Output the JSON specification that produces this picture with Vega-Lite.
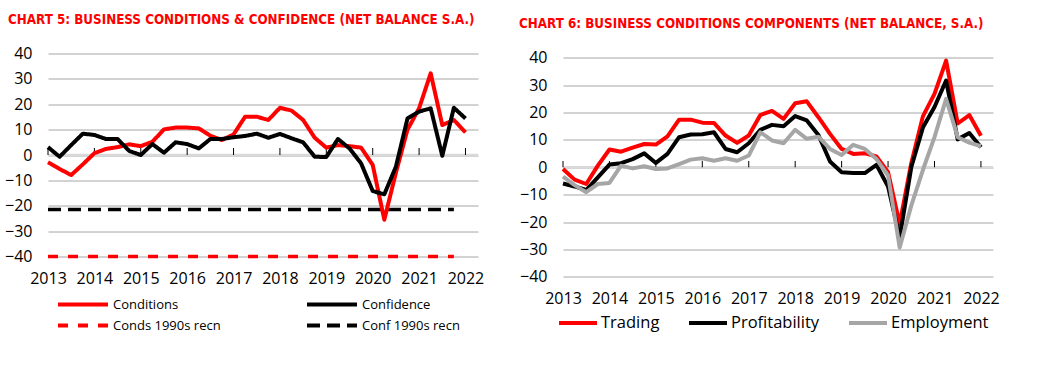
{
  "$schema": "https://vega.github.io/schema/vega-lite/v6.json",
  "padding": {"left": 4, "top": 12.5, "right": 0, "bottom": 0},
  "background": "white",
  "spacing": 85,
  "bounds": "flush",
  "resolve": {"scale": {"color": "independent", "strokeDash": "independent", "x": "independent", "y": "independent"}, "legend": {"color": "independent", "strokeDash": "independent"}},
  "config": {
    "view": {"stroke": null},
    "font": "Open Sans",
    "axis": {"labelFont": "Open Sans", "labelColor": "#000000", "labelFontSize": 16, "domain": false, "ticks": false, "tickSize": 0, "gridColor": "#a6a6a6", "gridWidth": 1, "labelOverlap": false},
    "legend": {"labelFont": "Open Sans", "labelColor": "#000000", "padding": 0},
    "title": {"font": "Liberation Sans Narrow, DejaVu Sans Condensed, sans-serif", "fontWeight": "bold", "color": "#ff0000", "fontSize": 13.3, "anchor": "start", "frame": "group", "limit": 1000}
  },
  "hconcat": [
    {
      "title": {"text": "CHART 5: BUSINESS CONDITIONS & CONFIDENCE (NET BALANCE S.A.)", "dx": -40, "offset": 19.5},
      "width": 430,
      "height": 203,
      "layer": [
        {
          "data": {"values": [{"z": 0}]},
          "mark": {"type": "rule", "color": "#d9d9d9", "strokeWidth": 2.5},
          "encoding": {
            "y": {"field": "z", "type": "quantitative", "scale": {"domain": [-40, 40], "nice": false, "zero": false},
                  "axis": {"values": [-40, -30, -20, -10, 0, 10, 20, 30, 40], "grid": true, "labelPadding": 16, "title": null}}
          }
        },
        {
          "data": {"values": [{"t": 2013}, {"t": 2014}, {"t": 2015}, {"t": 2016}, {"t": 2017}, {"t": 2018}, {"t": 2019}, {"t": 2020}, {"t": 2021}, {"t": 2022}]},
          "mark": {"type": "rule", "color": "#000000", "strokeWidth": 1},
          "encoding": {
            "x": {"field": "t", "type": "quantitative", "scale": {"domain": [2013, 2022.27], "nice": false, "zero": false},
                  "axis": {"values": [2013, 2014, 2015, 2016, 2017, 2018, 2019, 2020, 2021, 2022], "format": "d", "grid": false, "labelFlush": false, "labelOverlap": false, "labelPadding": 14, "title": null}},
            "y": {"datum": 0, "type": "quantitative", "scale": {"domain": [-40, 40], "nice": false, "zero": false},
                  "axis": {"values": [-40, -30, -20, -10, 0, 10, 20, 30, 40], "grid": true, "labelPadding": 16, "title": null}},
            "y2": {"datum": 2.76}
          }
        },
        {
          "data": {"name": "left"},
          "transform": [
            {"fold": ["Conditions", "Confidence", "Conds 1990s recn", "Conf 1990s recn"], "as": ["series", "v"]},
            {"filter": {"field": "series", "oneOf": ["Conds 1990s recn", "Conf 1990s recn"]}}
          ],
          "mark": {"type": "line", "strokeWidth": 3.5},
          "encoding": {
            "x": {"field": "t", "type": "quantitative", "scale": {"domain": [2013, 2022.27], "nice": false, "zero": false},
                  "axis": {"values": [2013, 2014, 2015, 2016, 2017, 2018, 2019, 2020, 2021, 2022], "format": "d", "grid": false, "labelFlush": false, "labelOverlap": false, "labelPadding": 14, "title": null}},
            "y": {"field": "v", "type": "quantitative", "scale": {"domain": [-40, 40], "nice": false, "zero": false},
                  "axis": {"values": [-40, -30, -20, -10, 0, 10, 20, 30, 40], "grid": true, "labelPadding": 16, "title": null}},
            "color": {"field": "series", "type": "nominal",
                      "scale": {"domain": ["Conditions", "Conds 1990s recn", "Confidence", "Conf 1990s recn"], "range": ["#ff0000", "#ff0000", "#000000", "#000000"]},
                      "legend": {"title": null, "orient": "none", "legendX": 8, "legendY": 240.5, "columns": 2, "columnPadding": 84, "symbolType": "stroke", "symbolSize": 2500, "symbolStrokeWidth": 4, "clipHeight": 21, "rowPadding": 0, "labelFontSize": 13, "labelOffset": 3}},
            "strokeDash": {"field": "series", "type": "nominal",
                      "scale": {"domain": ["Conditions", "Conds 1990s recn", "Confidence", "Conf 1990s recn"], "range": [[1, 0], [10, 10], [1, 0], [13, 7]]},
                      "legend": {"title": null, "orient": "none", "legendX": 8, "legendY": 240.5, "columns": 2, "columnPadding": 84, "symbolType": "stroke", "symbolSize": 2500, "symbolStrokeWidth": 4, "clipHeight": 21, "rowPadding": 0, "labelFontSize": 13, "labelOffset": 3}}
          }
        },
        {
          "data": {"name": "left"},
          "transform": [
            {"fold": ["Conditions", "Confidence", "Conds 1990s recn", "Conf 1990s recn"], "as": ["series", "v"]},
            {"filter": {"field": "series", "oneOf": ["Conditions", "Confidence"]}}
          ],
          "mark": {"type": "line", "strokeWidth": 4, "strokeJoin": "round"},
          "encoding": {
            "x": {"field": "t", "type": "quantitative", "scale": {"domain": [2013, 2022.27], "nice": false, "zero": false},
                  "axis": {"values": [2013, 2014, 2015, 2016, 2017, 2018, 2019, 2020, 2021, 2022], "format": "d", "grid": false, "labelFlush": false, "labelOverlap": false, "labelPadding": 14, "title": null}},
            "y": {"field": "v", "type": "quantitative", "scale": {"domain": [-40, 40], "nice": false, "zero": false},
                  "axis": {"values": [-40, -30, -20, -10, 0, 10, 20, 30, 40], "grid": true, "labelPadding": 16, "title": null}},
            "color": {"field": "series", "type": "nominal",
                      "scale": {"domain": ["Conditions", "Conds 1990s recn", "Confidence", "Conf 1990s recn"], "range": ["#ff0000", "#ff0000", "#000000", "#000000"]},
                      "legend": {"title": null, "orient": "none", "legendX": 8, "legendY": 240.5, "columns": 2, "columnPadding": 84, "symbolType": "stroke", "symbolSize": 2500, "symbolStrokeWidth": 4, "clipHeight": 21, "rowPadding": 0, "labelFontSize": 13, "labelOffset": 3}},
            "strokeDash": {"field": "series", "type": "nominal",
                      "scale": {"domain": ["Conditions", "Conds 1990s recn", "Confidence", "Conf 1990s recn"], "range": [[1, 0], [10, 10], [1, 0], [13, 7]]},
                      "legend": {"title": null, "orient": "none", "legendX": 8, "legendY": 240.5, "columns": 2, "columnPadding": 84, "symbolType": "stroke", "symbolSize": 2500, "symbolStrokeWidth": 4, "clipHeight": 21, "rowPadding": 0, "labelFontSize": 13, "labelOffset": 3}}
          }
        }
      ]
    },
    {
      "title": {"text": "CHART 6: BUSINESS CONDITIONS COMPONENTS (NET BALANCE, S.A.)", "dx": -44, "offset": 19.5},
      "width": 430,
      "height": 223.3,
      "layer": [
        {
          "data": {"values": [{"z": 0}]},
          "mark": {"type": "rule", "color": "#d9d9d9", "strokeWidth": 2.5},
          "encoding": {
            "y": {"field": "z", "type": "quantitative", "scale": {"domain": [-40, 41.57], "nice": false, "zero": false},
                  "axis": {"values": [-40, -30, -20, -10, 0, 10, 20, 30, 40], "grid": true, "labelPadding": 16, "title": null}}
          }
        },
        {
          "data": {"values": [{"t": 2013}, {"t": 2014}, {"t": 2015}, {"t": 2016}, {"t": 2017}, {"t": 2018}, {"t": 2019}, {"t": 2020}, {"t": 2021}, {"t": 2022}]},
          "mark": {"type": "rule", "color": "#000000", "strokeWidth": 1},
          "encoding": {
            "x": {"field": "t", "type": "quantitative", "scale": {"domain": [2013, 2022.26], "nice": false, "zero": false},
                  "axis": {"values": [2013, 2014, 2015, 2016, 2017, 2018, 2019, 2020, 2021, 2022], "format": "d", "grid": false, "labelFlush": false, "labelOverlap": false, "labelPadding": 14, "title": null}},
            "y": {"datum": 0, "type": "quantitative", "scale": {"domain": [-40, 41.57], "nice": false, "zero": false},
                  "axis": {"values": [-40, -30, -20, -10, 0, 10, 20, 30, 40], "grid": true, "labelPadding": 16, "title": null}},
            "y2": {"datum": 2.3}
          }
        },
        {
          "data": {"name": "right"},
          "transform": [
            {"fold": ["Trading", "Profitability", "Employment"], "as": ["series", "v"]}
          ],
          "mark": {"type": "line", "strokeWidth": 4, "strokeJoin": "round"},
          "encoding": {
            "x": {"field": "t", "type": "quantitative", "scale": {"domain": [2013, 2022.26], "nice": false, "zero": false},
                  "axis": {"values": [2013, 2014, 2015, 2016, 2017, 2018, 2019, 2020, 2021, 2022], "format": "d", "grid": false, "labelFlush": false, "labelOverlap": false, "labelPadding": 14, "title": null}},
            "y": {"field": "v", "type": "quantitative", "scale": {"domain": [-40, 41.57], "nice": false, "zero": false},
                  "axis": {"values": [-40, -30, -20, -10, 0, 10, 20, 30, 40], "grid": true, "labelPadding": 16, "title": null}},
            "color": {"field": "series", "type": "nominal",
                      "scale": {"domain": ["Trading", "Profitability", "Employment"], "range": ["#ff0000", "#000000", "#a6a6a6"]},
                      "legend": {"title": null, "orient": "none", "legendX": -6, "legendY": 259, "direction": "horizontal", "columns": 3, "columnPadding": 27, "symbolType": "stroke", "symbolSize": 1444, "symbolStrokeWidth": 4, "clipHeight": 21, "labelFontSize": 16.5, "labelOffset": 2}}
          }
        }
      ]
    }
  ],
  "datasets": {
    "left": [
      {"t": 2013, "Conditions": -2.9, "Confidence": 3.1, "Conds 1990s recn": -40, "Conf 1990s recn": -21.5},
      {"t": 2013.25, "Conditions": -5.5, "Confidence": -0.7, "Conds 1990s recn": -40, "Conf 1990s recn": -21.5},
      {"t": 2013.5, "Conditions": -7.9, "Confidence": 3.9, "Conds 1990s recn": -40, "Conf 1990s recn": -21.5},
      {"t": 2013.75, "Conditions": -3.7, "Confidence": 8.4, "Conds 1990s recn": -40, "Conf 1990s recn": -21.5},
      {"t": 2014, "Conditions": 0.7, "Confidence": 7.9, "Conds 1990s recn": -40, "Conf 1990s recn": -21.5},
      {"t": 2014.25, "Conditions": 2.4, "Confidence": 6.3, "Conds 1990s recn": -40, "Conf 1990s recn": -21.5},
      {"t": 2014.5, "Conditions": 3.1, "Confidence": 6.3, "Conds 1990s recn": -40, "Conf 1990s recn": -21.5},
      {"t": 2014.75, "Conditions": 4.2, "Confidence": 1.6, "Conds 1990s recn": -40, "Conf 1990s recn": -21.5},
      {"t": 2015, "Conditions": 3.5, "Confidence": 0, "Conds 1990s recn": -40, "Conf 1990s recn": -21.5},
      {"t": 2015.25, "Conditions": 5.2, "Confidence": 4.3, "Conds 1990s recn": -40, "Conf 1990s recn": -21.5},
      {"t": 2015.5, "Conditions": 10.1, "Confidence": 0.9, "Conds 1990s recn": -40, "Conf 1990s recn": -21.5},
      {"t": 2015.75, "Conditions": 10.8, "Confidence": 5, "Conds 1990s recn": -40, "Conf 1990s recn": -21.5},
      {"t": 2016, "Conditions": 10.8, "Confidence": 4.3, "Conds 1990s recn": -40, "Conf 1990s recn": -21.5},
      {"t": 2016.25, "Conditions": 10.5, "Confidence": 2.6, "Conds 1990s recn": -40, "Conf 1990s recn": -21.5},
      {"t": 2016.5, "Conditions": 7.6, "Confidence": 6.3, "Conds 1990s recn": -40, "Conf 1990s recn": -21.5},
      {"t": 2016.75, "Conditions": 5.9, "Confidence": 6.3, "Conds 1990s recn": -40, "Conf 1990s recn": -21.5},
      {"t": 2017, "Conditions": 8.1, "Confidence": 7, "Conds 1990s recn": -40, "Conf 1990s recn": -21.5},
      {"t": 2017.25, "Conditions": 15.1, "Confidence": 7.5, "Conds 1990s recn": -40, "Conf 1990s recn": -21.5},
      {"t": 2017.5, "Conditions": 15.1, "Confidence": 8.4, "Conds 1990s recn": -40, "Conf 1990s recn": -21.5},
      {"t": 2017.75, "Conditions": 13.8, "Confidence": 6.8, "Conds 1990s recn": -40, "Conf 1990s recn": -21.5},
      {"t": 2018, "Conditions": 18.6, "Confidence": 8.3, "Conds 1990s recn": -40, "Conf 1990s recn": -21.5},
      {"t": 2018.25, "Conditions": 17.5, "Confidence": 6.6, "Conds 1990s recn": -40, "Conf 1990s recn": -21.5},
      {"t": 2018.5, "Conditions": 13.8, "Confidence": 5, "Conds 1990s recn": -40, "Conf 1990s recn": -21.5},
      {"t": 2018.75, "Conditions": 6.8, "Confidence": -0.7, "Conds 1990s recn": -40, "Conf 1990s recn": -21.5},
      {"t": 2019, "Conditions": 2.9, "Confidence": -0.8, "Conds 1990s recn": -40, "Conf 1990s recn": -21.5},
      {"t": 2019.25, "Conditions": 3.9, "Confidence": 6.3, "Conds 1990s recn": -40, "Conf 1990s recn": -21.5},
      {"t": 2019.5, "Conditions": 3.5, "Confidence": 2.6, "Conds 1990s recn": -40, "Conf 1990s recn": -21.5},
      {"t": 2019.75, "Conditions": 2.9, "Confidence": -3.3, "Conds 1990s recn": -40, "Conf 1990s recn": -21.5},
      {"t": 2020, "Conditions": -3.9, "Confidence": -14.2, "Conds 1990s recn": -40, "Conf 1990s recn": -21.5},
      {"t": 2020.25, "Conditions": -25.5, "Confidence": -15.5, "Conds 1990s recn": -40, "Conf 1990s recn": -21.5},
      {"t": 2020.5, "Conditions": -7, "Confidence": -4.6, "Conds 1990s recn": -40, "Conf 1990s recn": -21.5},
      {"t": 2020.75, "Conditions": 10, "Confidence": 14.4, "Conds 1990s recn": -40, "Conf 1990s recn": -21.5},
      {"t": 2021, "Conditions": 18.4, "Confidence": 17.1, "Conds 1990s recn": -40, "Conf 1990s recn": -21.5},
      {"t": 2021.25, "Conditions": 32.2, "Confidence": 18.4, "Conds 1990s recn": -40, "Conf 1990s recn": -21.5},
      {"t": 2021.5, "Conditions": 11.8, "Confidence": -0.3, "Conds 1990s recn": -40, "Conf 1990s recn": -21.5},
      {"t": 2021.75, "Conditions": 13.8, "Confidence": 18.6, "Conds 1990s recn": -40, "Conf 1990s recn": -21.5},
      {"t": 2022, "Conditions": 8.9, "Confidence": 14.4, "Conds 1990s recn": null, "Conf 1990s recn": null}
    ],
    "right": [
      {"t": 2013, "Trading": -0.6, "Profitability": -5.9, "Employment": -3.4},
      {"t": 2013.25, "Trading": -4.5, "Profitability": -7, "Employment": -6.5},
      {"t": 2013.5, "Trading": -6.1, "Profitability": -8.3, "Employment": -9.1},
      {"t": 2013.75, "Trading": 0.6, "Profitability": -3.7, "Employment": -6.1},
      {"t": 2014, "Trading": 6.5, "Profitability": 1, "Employment": -5.7},
      {"t": 2014.25, "Trading": 5.7, "Profitability": 1.5, "Employment": 0.6},
      {"t": 2014.5, "Trading": 7.2, "Profitability": 3, "Employment": -0.4},
      {"t": 2014.75, "Trading": 8.5, "Profitability": 5.1, "Employment": 0.4},
      {"t": 2015, "Trading": 8.3, "Profitability": 1.6, "Employment": -0.6},
      {"t": 2015.25, "Trading": 11.3, "Profitability": 4.9, "Employment": -0.4},
      {"t": 2015.5, "Trading": 17.4, "Profitability": 11, "Employment": 1.2},
      {"t": 2015.75, "Trading": 17.4, "Profitability": 12, "Employment": 2.8},
      {"t": 2016, "Trading": 16.3, "Profitability": 12.1, "Employment": 3.3},
      {"t": 2016.25, "Trading": 16.2, "Profitability": 12.8, "Employment": 2.4},
      {"t": 2016.5, "Trading": 11.6, "Profitability": 6.7, "Employment": 3.3},
      {"t": 2016.75, "Trading": 8.9, "Profitability": 5.5, "Employment": 2.4},
      {"t": 2017, "Trading": 11.6, "Profitability": 8.8, "Employment": 4.3},
      {"t": 2017.25, "Trading": 19.1, "Profitability": 13.7, "Employment": 12.8},
      {"t": 2017.5, "Trading": 20.6, "Profitability": 15.5, "Employment": 9.8},
      {"t": 2017.75, "Trading": 17.7, "Profitability": 15, "Employment": 8.8},
      {"t": 2018, "Trading": 23.4, "Profitability": 18.7, "Employment": 13.7},
      {"t": 2018.25, "Trading": 24.1, "Profitability": 17.1, "Employment": 10.4},
      {"t": 2018.5, "Trading": 18.3, "Profitability": 11.8, "Employment": 11.2},
      {"t": 2018.75, "Trading": 12.2, "Profitability": 2.1, "Employment": 6.7},
      {"t": 2019, "Trading": 6.7, "Profitability": -1.8, "Employment": 4.5},
      {"t": 2019.25, "Trading": 4.9, "Profitability": -2.1, "Employment": 8.2},
      {"t": 2019.5, "Trading": 5.1, "Profitability": -2.1, "Employment": 6.7},
      {"t": 2019.75, "Trading": 4, "Profitability": 0.9, "Employment": 3},
      {"t": 2020, "Trading": -1.8, "Profitability": -7, "Employment": -3},
      {"t": 2020.25, "Trading": -20.7, "Profitability": -25.6, "Employment": -29.3},
      {"t": 2020.5, "Trading": 1.5, "Profitability": 0, "Employment": -14},
      {"t": 2020.75, "Trading": 18.6, "Profitability": 14.5, "Employment": -1},
      {"t": 2021, "Trading": 26.8, "Profitability": 22, "Employment": 11},
      {"t": 2021.25, "Trading": 39, "Profitability": 31.7, "Employment": 25},
      {"t": 2021.5, "Trading": 16, "Profitability": 10.2, "Employment": 11},
      {"t": 2021.75, "Trading": 19.1, "Profitability": 12.5, "Employment": 9},
      {"t": 2022, "Trading": 11.5, "Profitability": 7.3, "Employment": 7.7}
    ]
  }
}
